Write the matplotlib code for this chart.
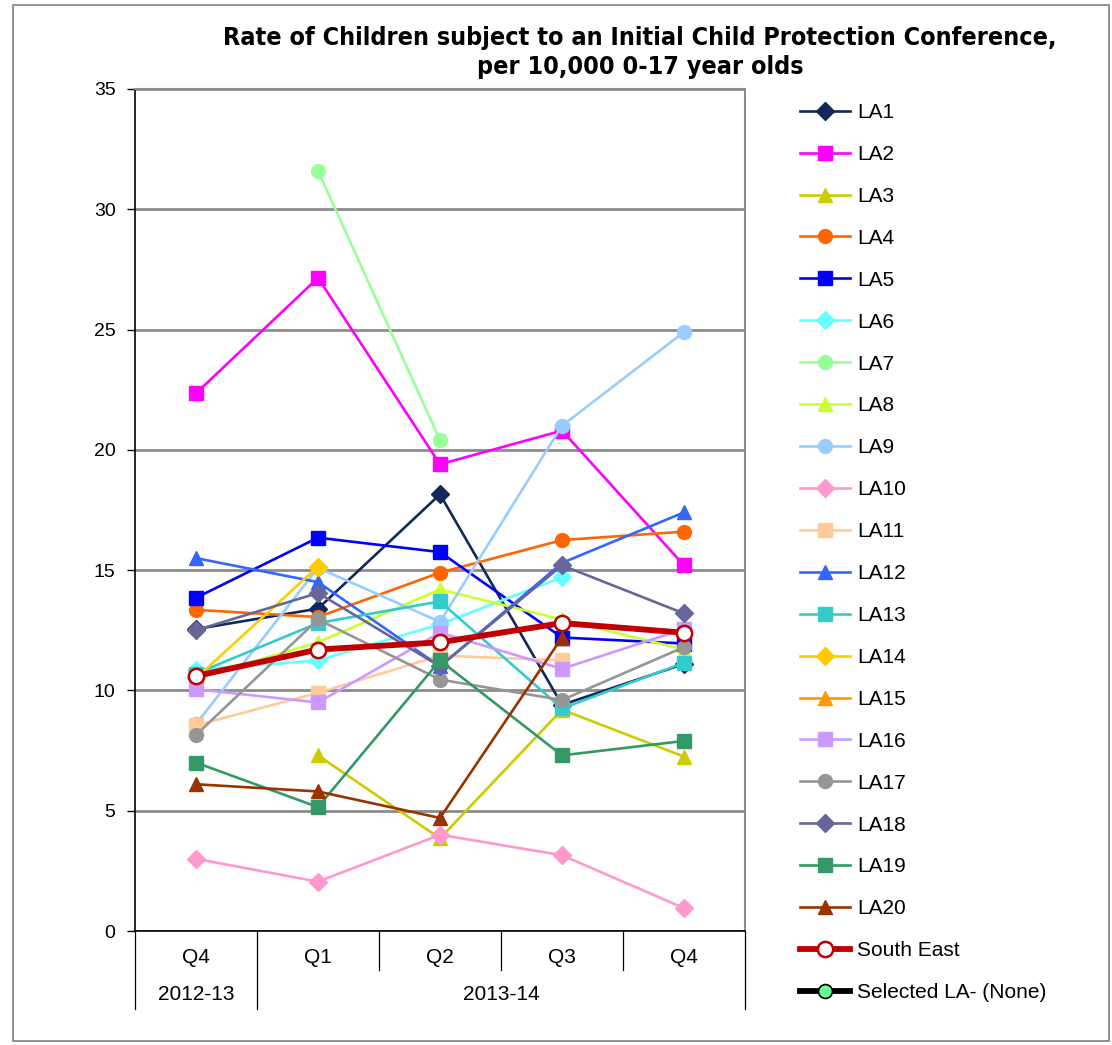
import numpy as np
import matplotlib
matplotlib.use("Agg")
import matplotlib.pyplot as plt
import matplotlib.transforms as mtransforms
from matplotlib.patches import Rectangle
from matplotlib import font_manager

plt.rcParams['font.family'] = ['Liberation Sans', 'DejaVu Sans']

nan = np.nan
quarters = ["Q4", "Q1", "Q2", "Q3", "Q4"]
years = ["2012-13", "2013-14"]

LA1 = [12.55, 13.4, 18.15, 9.4, 11.1]
LA2 = [22.35, 27.15, 19.4, 20.8, 15.2]
LA3 = [nan, 7.3, 3.85, 9.2, 7.25]
LA4 = [13.35, 13.05, 14.9, 16.25, 16.6]
LA5 = [13.85, 16.35, 15.75, 12.2, 11.95]
LA6 = [10.85, 11.25, 12.75, 14.7, nan]
LA7 = [nan, 31.6, 20.4, nan, nan]
LA8 = [10.5, 12.0, 14.2, 12.95, 11.7]
LA9 = [8.6, 15.1, 12.85, 21.0, 24.9]
LA10 = [3.0, 2.05, 4.0, 3.15, 0.95]
LA11 = [8.55, 9.9, 11.45, 11.25, nan]
LA12 = [15.5, 14.5, 11.0, 15.3, 17.4]
LA13 = [10.7, 12.8, 13.7, 9.25, 11.15]
LA14 = [10.5, 15.15, nan, nan, nan]
LA15 = [nan, nan, nan, nan, nan]
LA16 = [10.05, 9.5, 12.4, 10.9, 12.55]
LA17 = [8.15, 12.95, 10.45, 9.6, 11.8]
LA18 = [12.5, 14.05, 11.0, 15.2, 13.2]
LA19 = [7.0, 5.15, 11.25, 7.3, 7.9]
LA20 = [6.1, 5.8, 4.7, 12.2, nan]
south_east = [10.6, 11.7, 12.0, 12.8, 12.4]
selected = [nan, nan, nan, nan, nan]

series = [
    ("LA1", LA1, "#10285a", "D", 9),
    ("LA2", LA2, "#ff00ff", "s", 10),
    ("LA3", LA3, "#cccc00", "^", 10),
    ("LA4", LA4, "#ff6600", "o", 10),
    ("LA5", LA5, "#0000ff", "s", 10),
    ("LA6", LA6, "#66ffff", "D", 9),
    ("LA7", LA7, "#99ff99", "o", 10),
    ("LA8", LA8, "#ccff33", "^", 10),
    ("LA9", LA9, "#99ccff", "o", 10),
    ("LA10", LA10, "#ff99cc", "D", 9),
    ("LA11", LA11, "#ffcc99", "s", 10),
    ("LA12", LA12, "#3366ff", "^", 10),
    ("LA13", LA13, "#33cccc", "s", 10),
    ("LA14", LA14, "#ffcc00", "D", 9),
    ("LA15", LA15, "#ff9900", "^", 10),
    ("LA16", LA16, "#cc99ff", "s", 10),
    ("LA17", LA17, "#969696", "o", 10),
    ("LA18", LA18, "#666699", "D", 9),
    ("LA19", LA19, "#339966", "s", 10),
    ("LA20", LA20, "#993300", "^", 10),
]

# pick a condensed bold font for the title if one is installed
names = {f.name for f in font_manager.fontManager.ttflist}
if "Liberation Sans Narrow" in names:
    title_kw = dict(family=["Liberation Sans Narrow", "DejaVu Sans"], fontsize=20)
else:
    title_kw = dict(family=["DejaVu Sans"], fontstretch="condensed", fontsize=18)

W, H = 1112, 1045
fig = plt.figure(figsize=(W / 100, H / 100), dpi=100)
ax = fig.add_axes([135 / W, 1 - 931 / H, 610 / W, 842 / H])

FS = 15
x = np.arange(len(quarters))
handles = []
for name, vals, col, mk, ms in series:
    h, = ax.plot(x, vals, color=col, marker=mk, markersize=ms, linewidth=1.9,
                 markerfacecolor=col, markeredgecolor=col, label=name)
    handles.append(h)
h, = ax.plot(x, south_east, color="#c00000", linewidth=4.2, marker="o", markersize=11,
             markerfacecolor="white", markeredgecolor="#c00000", markeredgewidth=1.8,
             label="South East")
handles.append(h)
h, = ax.plot(x, selected, color="black", linewidth=4.2, marker="o", markersize=10,
             markerfacecolor="#66ff99", markeredgecolor="black", markeredgewidth=1.2,
             label="Selected LA- (None)")
handles.append(h)

ax.set_xlim(-0.5, len(quarters) - 0.5)
ax.set_ylim(0, 35)
ax.set_yticks(np.arange(0, 36, 5))
ax.yaxis.grid(True, color="#8c8c8c", linewidth=2.0)
ax.set_axisbelow(True)
ax.tick_params(axis="y", labelsize=FS - 1, length=6, width=1, direction="out", pad=8)
ax.set_xticks(x)
ax.set_xticklabels(quarters, fontsize=FS)
ax.tick_params(axis="x", length=0, pad=12)
for s in ["top", "right"]:
    ax.spines[s].set_color("#8c8c8c")
    ax.spines[s].set_linewidth(1.5)
ax.spines["left"].set_linewidth(1.2)
ax.spines["bottom"].set_linewidth(1.2)

# multi-level category separators
trans = mtransforms.blended_transform_factory(ax.transData, ax.transAxes)
short = -39 / 842
long_ = -78 / 842
for xb in [1.5, 2.5, 3.5]:
    ax.plot([xb, xb], [0, short], transform=trans, color="black", linewidth=0.9, clip_on=False)
for xb in [-0.5, 0.5, 4.5]:
    ax.plot([xb, xb], [0, long_], transform=trans, color="black", linewidth=0.9, clip_on=False)
ax.text(0, -64 / 842, years[0], transform=trans, ha="center", va="center", fontsize=FS)
ax.text(2.5, -64 / 842, years[1], transform=trans, ha="center", va="center", fontsize=FS)

fig.text(640 / W, 1 - 38 / H, "Rate of Children subject to an Initial Child Protection Conference,",
         ha="center", va="center", fontweight="bold", **title_kw)
fig.text(640 / W, 1 - 67 / H, "per 10,000 0-17 year olds",
         ha="center", va="center", fontweight="bold", **title_kw)

leg = fig.legend(handles=handles, loc="upper left", bbox_to_anchor=(800 / W, 1 - 103 / H),
                 frameon=False, fontsize=FS, handlelength=2.4, handletextpad=0.35,
                 labelspacing=1.10, borderaxespad=0, borderpad=0)

fig.patches.append(Rectangle((13 / W, 4 / H), 1096 / W, 1036 / H, transform=fig.transFigure,
                             fill=False, edgecolor="#808080", linewidth=1.2))

fig.savefig("out.png", dpi=100)
